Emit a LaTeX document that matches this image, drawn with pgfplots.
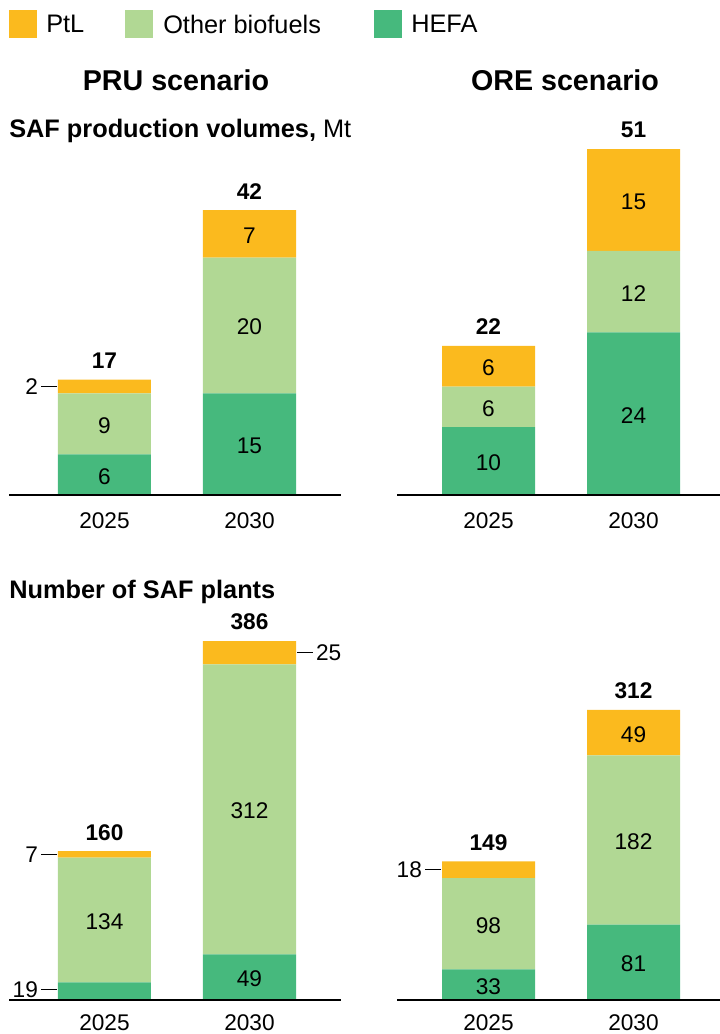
\documentclass[border=0pt]{standalone}
\usepackage{pgfplots}
\pgfplotsset{compat=1.18}
\usepackage{fontspec}
\setmainfont{Liberation Sans}
\definecolor{ptl}{RGB}{251,186,30}
\definecolor{oth}{RGB}{177,216,148}
\definecolor{hefa}{RGB}{70,185,125}
\newcommand{\lbl}{\fontsize{17}{20}\selectfont}
\newcommand{\tot}{\fontsize{17}{20}\selectfont\bfseries}
\pgfplotsset{
  safbar/.style={
    ybar stacked,
    bar width=69.75pt,
    x=108.75pt,
    anchor=south west,
    ymin=0,
    clip=false,
    axis line style={draw=none},
    xtick={0,1},
    xticklabels={2025,2030},
    ytick=\empty,
    major tick length=0pt,
    xticklabel style={font=\lbl, anchor=center, yshift=-19.5pt},
  },
}
\tikzset{
  seg/.style={font=\lbl, yshift=-1.2pt},
  tot/.style={font=\tot, yshift=14.25pt},
  side/.style={line width=0.75pt},
  base/.style={line width=1.2pt},
}
\begin{document}
\begin{tikzpicture}
\useasboundingbox (0,0) rectangle (540pt,-775.5pt);
\begin{scope}[x=0.75pt,y=-0.75pt]
% legend
\fill[ptl] (9,10) rectangle (37,38);
\node[anchor=west, font=\fontsize{19}{22}\selectfont, inner sep=0pt] at (46,24) {PtL};
\fill[oth] (125,10) rectangle (153,38);
\node[anchor=west, font=\fontsize{19}{22}\selectfont, inner sep=0pt] at (163,24) {Other biofuels};
\fill[hefa] (374,10) rectangle (402,38);
\node[anchor=west, font=\fontsize{19}{22}\selectfont, inner sep=0pt] at (411,24) {HEFA};
% titles
\node[font=\fontsize{21.5}{24}\selectfont\bfseries] at (176,80) {PRU scenario};
\node[font=\fontsize{21.5}{24}\selectfont\bfseries] at (565,80) {ORE scenario};
\node[anchor=west, inner sep=0pt, font=\fontsize{19}{22}\selectfont] at (9,131) {\textbf{SAF production volumes,} Mt};
\node[anchor=west, inner sep=0pt, font=\fontsize{19}{22}\selectfont\bfseries] at (9,592) {Number of SAF plants};
\end{scope}

% top-left: PRU volumes
\begin{axis}[safbar, at={(6.75pt,-371.25pt)}, y=5.085pt, xmin=-0.6586, xmax=1.631, ymax=52]
\addplot[fill=hefa, draw=none] coordinates {(0,6) (1,15)};
\addplot[fill=oth, draw=none] coordinates {(0,9) (1,20)};
\addplot[fill=ptl, draw=none] coordinates {(0,2) (1,7)};
\coordinate (aL) at (axis cs:-0.6586,0);
\coordinate (aR) at (axis cs:1.631,0);
\coordinate (a1) at (axis cs:0,3);
\coordinate (a2) at (axis cs:0,10.5);
\coordinate (a3) at (axis cs:0,17);
\coordinate (a4) at (axis cs:0,16);
\coordinate (a5) at (axis cs:1,7.5);
\coordinate (a6) at (axis cs:1,25);
\coordinate (a7) at (axis cs:1,38.5);
\coordinate (a8) at (axis cs:1,42);
\end{axis}

% top-right: ORE volumes
\begin{axis}[safbar, at={(297.75pt,-371.25pt)}, y=5.085pt, xmin=-0.631, xmax=1.597, ymax=52]
\addplot[fill=hefa, draw=none] coordinates {(0,10) (1,24)};
\addplot[fill=oth, draw=none] coordinates {(0,6) (1,12)};
\addplot[fill=ptl, draw=none] coordinates {(0,6) (1,15)};
\coordinate (bL) at (axis cs:-0.631,0);
\coordinate (bR) at (axis cs:1.597,0);
\coordinate (b1) at (axis cs:0,5);
\coordinate (b2) at (axis cs:0,13);
\coordinate (b3) at (axis cs:0,19);
\coordinate (b4) at (axis cs:0,22);
\coordinate (b5) at (axis cs:1,12);
\coordinate (b6) at (axis cs:1,30);
\coordinate (b7) at (axis cs:1,43.5);
\coordinate (b8) at (axis cs:1,51);
\end{axis}

% bottom-left: PRU plants
\begin{axis}[safbar, at={(6.75pt,-750pt)}, y=0.6975pt, xmin=-0.6586, xmax=1.631, ymax=400,
  xticklabel style={yshift=2.25pt}]
\addplot[fill=hefa, draw=none] coordinates {(0,19) (1,49)};
\addplot[fill=oth, draw=none] coordinates {(0,134) (1,312)};
\addplot[fill=ptl, draw=none] coordinates {(0,7) (1,25)};
\coordinate (cL) at (axis cs:-0.6586,0);
\coordinate (cR) at (axis cs:1.631,0);
\coordinate (c1) at (axis cs:0,11.5);
\coordinate (c2) at (axis cs:0,86);
\coordinate (c3) at (axis cs:0,156.5);
\coordinate (c4) at (axis cs:0,160);
\coordinate (c5) at (axis cs:1,24.5);
\coordinate (c6) at (axis cs:1,205);
\coordinate (c7) at (axis cs:1,373.5);
\coordinate (c8) at (axis cs:1,386);
\end{axis}

% bottom-right: ORE plants
\begin{axis}[safbar, at={(297.75pt,-750pt)}, y=0.6975pt, xmin=-0.631, xmax=1.597, ymax=400,
  xticklabel style={yshift=2.25pt}]
\addplot[fill=hefa, draw=none] coordinates {(0,33) (1,81)};
\addplot[fill=oth, draw=none] coordinates {(0,98) (1,182)};
\addplot[fill=ptl, draw=none] coordinates {(0,18) (1,49)};
\coordinate (dL) at (axis cs:-0.631,0);
\coordinate (dR) at (axis cs:1.597,0);
\coordinate (d1) at (axis cs:0,16.5);
\coordinate (d2) at (axis cs:0,82);
\coordinate (d3) at (axis cs:0,140);
\coordinate (d4) at (axis cs:0,149);
\coordinate (d5) at (axis cs:1,40.5);
\coordinate (d6) at (axis cs:1,172);
\coordinate (d7) at (axis cs:1,287.5);
\coordinate (d8) at (axis cs:1,312);
\end{axis}

% labels and baselines (drawn on top of the bars)
\draw[base] (aL) -- (aR);
\node[seg] at (a1) {6};
\node[seg] at (a2) {9};
\node[tot] at (a3) {17};
\draw[side] ([xshift=-35.6pt]a4) -- ([xshift=-47.6pt]a4) node[anchor=east, inner sep=2pt, font=\lbl] {2};
\node[seg] at (a5) {15};
\node[seg] at (a6) {20};
\node[seg] at (a7) {7};
\node[tot] at (a8) {42};

\draw[base] (bL) -- (bR);
\node[seg] at (b1) {10};
\node[seg] at (b2) {6};
\node[seg] at (b3) {6};
\node[tot] at (b4) {22};
\node[seg] at (b5) {24};
\node[seg] at (b6) {12};
\node[seg] at (b7) {15};
\node[tot] at (b8) {51};

\draw[base] (cL) -- (cR);
\draw[side] ([xshift=-35.6pt]c1) -- ([xshift=-47.6pt]c1) node[anchor=east, inner sep=2pt, font=\lbl] {19};
\node[seg] at (c2) {134};
\draw[side] ([xshift=-35.6pt]c3) -- ([xshift=-47.6pt]c3) node[anchor=east, inner sep=2pt, font=\lbl] {7};
\node[tot] at (c4) {160};
\node[seg] at (c5) {49};
\node[seg] at (c6) {312};
\draw[side] ([xshift=35.6pt]c7) -- ([xshift=47.6pt]c7) node[anchor=west, inner sep=2pt, font=\lbl] {25};
\node[tot] at (c8) {386};

\draw[base] (dL) -- (dR);
\node[seg] at (d1) {33};
\node[seg] at (d2) {98};
\draw[side] ([xshift=-35.6pt]d3) -- ([xshift=-47.6pt]d3) node[anchor=east, inner sep=2pt, font=\lbl] {18};
\node[tot] at (d4) {149};
\node[seg] at (d5) {81};
\node[seg] at (d6) {182};
\node[seg] at (d7) {49};
\node[tot] at (d8) {312};
\end{tikzpicture}
\end{document}
